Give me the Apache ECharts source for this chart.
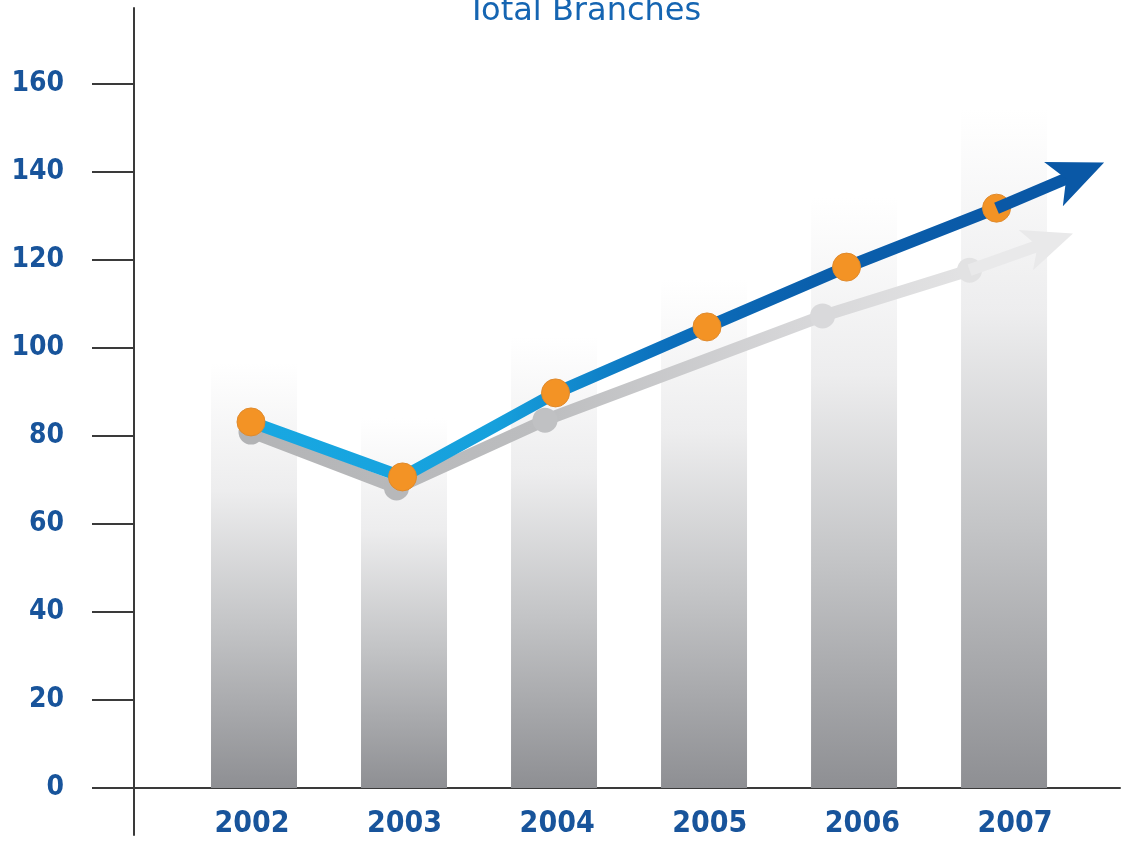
<!DOCTYPE html>
<html>
<head>
<meta charset="utf-8">
<script src="https://cdn.jsdelivr.net/npm/echarts@6/dist/echarts.min.js"></script>
<style>
html,body{margin:0;padding:0;background:#fff;}
#chart{width:1122px;height:846px;}
</style>
</head>
<body>
<div id="chart"></div>
<script>
// ---- data ----
const years = [2002, 2003, 2004, 2005, 2006, 2007];
const yTicks = [0, 20, 40, 60, 80, 100, 120, 140, 160];
const barValues = [96.6, 84.1, 102.5, 115.5, 134.3, 154.3];
const branchX = [2001.98, 2002.99, 2004.01, 2005.02, 2005.95, 2006.95];
const branchY = [83.2, 70.7, 89.8, 104.8, 118.4, 131.8];
const branchArrowEnd = [2007.483, 139.5];
const shadowX = [2001.98, 2002.95, 2003.94, 2005.79, 2006.77];
const shadowY = [80.9, 68.2, 83.6, 107.3, 117.7];
const shadowArrowEnd = [2007.29, 124.0];

// ---- axis range (y axis runs a little below zero, like the original) ----
const yMin = -10.7;
const yMax = 177.3;

// ---- styles ----
const shadowMarkerColors = ['#b2b3b5', '#b7b8ba', '#c0c1c3', '#d9d9db', '#e2e2e3'];
const labelColor = '#18549b';
const axisColor = '#3a3a3a';

const chart = echarts.init(document.getElementById('chart'), null, {renderer: 'canvas'});

const gridTop = 8, gridBottom = 11;
const gridH = 846 - gridTop - gridBottom;
// distance from grid bottom up to the value 0, used to lift the year axis onto zero
const zeroLift = gridH * (0 - yMin) / (yMax - yMin);

const barData = years.map((y, i) => [y, barValues[i]]);
const branchData = branchX.map((x, i) => [x, branchY[i]]);
const shadowData = shadowX.map((x, i) => ({
  value: [x, shadowY[i]],
  itemStyle: {color: shadowMarkerColors[i]}
}));
const lastBranch = branchData[branchData.length - 1];
const lastShadow = shadowData[shadowData.length - 1].value;

chart.setOption({
  animation: false,
  backgroundColor: '#ffffff',
  title: {
    text: 'Total Branches',
    left: 467,
    top: -4,
    padding: 0,
    textStyle: {
      fontFamily: 'DejaVu Sans',
      fontWeight: 'normal',
      fontSize: 32,
      color: '#1565b2'
    }
  },
  grid: {left: 134, right: 2, top: gridTop, bottom: gridBottom, containLabel: false, outerBoundsMode: 'none'},
  xAxis: [
    {
      // visible axis carrying the year labels
      type: 'value',
      position: 'bottom',
      offset: -zeroLift,
      min: 2001.227,
      max: 2007.688,
      axisLine: {show: true, onZero: false, lineStyle: {color: axisColor, width: 2}},
      axisTick: {show: false},
      splitLine: {show: false},
      axisLabel: {
        customValues: years,
        formatter: v => String(v),
        margin: 21,
        fontFamily: 'DejaVu Sans Condensed, DejaVu Sans',
        fontWeight: 'bold',
        fontSize: 30,
        color: labelColor
      }
    },
    {
      // axis used to place bars and points
      type: 'value',
      show: false,
      min: 2001.2,
      max: 2007.773,
      axisLine: {onZero: false},
      splitLine: {show: false}
    }
  ],
  yAxis: {
    type: 'value',
    position: 'left',
    min: yMin,
    max: yMax,
    axisLine: {show: true, onZero: false, lineStyle: {color: axisColor, width: 2}},
    axisTick: {show: true, customValues: yTicks, length: 42, lineStyle: {color: axisColor, width: 2}},
    axisLabel: {
      customValues: yTicks,
      margin: 70,
      fontFamily: 'DejaVu Sans Condensed, DejaVu Sans',
      fontWeight: 'bold',
      fontSize: 28,
      color: labelColor
    },
    splitLine: {show: false}
  },
  series: [
    {
      type: 'bar',
      xAxisIndex: 1,
      data: barData,
      barWidth: 86,
      silent: true,
      itemStyle: {
        color: {
          type: 'linear', x: 0, y: 0, x2: 0, y2: 1,
          colorStops: [
            {offset: 0, color: '#ffffff'},
            {offset: 0.3, color: '#ededee'},
            {offset: 0.62, color: '#c3c4c6'},
            {offset: 1, color: '#8e8f93'}
          ]
        }
      },
      z: 1
    },
    {
      type: 'line',
      xAxisIndex: 1,
      data: shadowData,
      symbol: 'circle',
      symbolSize: 25,
      silent: true,
      lineStyle: {
        width: 12,
        join: 'round',
        color: {
          type: 'linear', x: 0, y: 0, x2: 1, y2: 0,
          colorStops: [
            {offset: 0, color: '#b3b4b6'},
            {offset: 0.4, color: '#bcbdbf'},
            {offset: 0.75, color: '#d6d6d8'},
            {offset: 1, color: '#e3e3e4'}
          ]
        }
      },
      markLine: {
        silent: true,
        symbol: ['none', 'arrow'],
        symbolSize: [32, 50],
        symbolOffset: [0, [0, -27]],
        label: {show: false},
        lineStyle: {color: '#e9e9ea', width: 12, type: 'solid'},
        itemStyle: {color: '#e9e9ea'},
        emphasis: {disabled: true},
        data: [[{coord: lastShadow}, {coord: shadowArrowEnd}]]
      },
      z: 2
    },
    {
      type: 'line',
      xAxisIndex: 1,
      data: branchData,
      symbol: 'circle',
      symbolSize: 28,
      silent: true,
      itemStyle: {color: '#f39325', borderColor: '#e08a2c', borderWidth: 1},
      lineStyle: {
        width: 12,
        join: 'round',
        color: {
          type: 'linear', x: 0, y: 0, x2: 1, y2: 0,
          colorStops: [
            {offset: 0, color: '#18a8e2'},
            {offset: 0.33, color: '#16a0dc'},
            {offset: 0.55, color: '#0c70bd'},
            {offset: 0.75, color: '#0a5fac'},
            {offset: 1, color: '#0a59a7'}
          ]
        }
      },
      markLine: {
        silent: true,
        symbol: ['none', 'arrow'],
        symbolSize: [36, 55],
        symbolOffset: [0, [0, -30]],
        label: {show: false},
        lineStyle: {color: '#0a58a6', width: 12, type: 'solid'},
        itemStyle: {color: '#0a58a6'},
        emphasis: {disabled: true},
        data: [[{coord: lastBranch}, {coord: branchArrowEnd}]]
      },
      z: 3
    }
  ]
});
</script>
</body>
</html>
